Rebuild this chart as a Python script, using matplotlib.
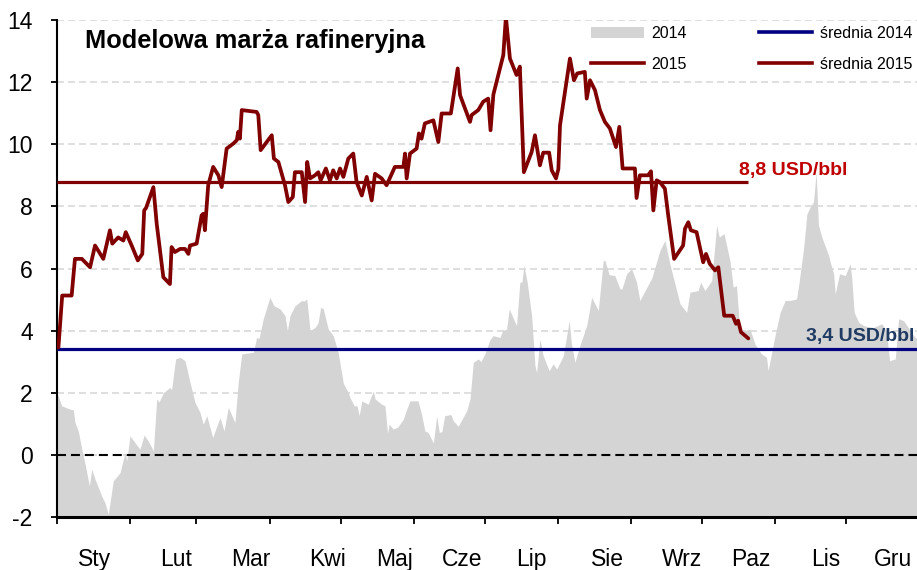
import matplotlib
matplotlib.use("Agg")
import matplotlib.pyplot as plt
from matplotlib.patches import Patch
from matplotlib.lines import Line2D

plt.rcParams['font.family'] = ['Liberation Sans', 'DejaVu Sans']

# --- data -------------------------------------------------------------
# 2014: model refining margin (USD/bbl) by day of year
days_2014 = [0.0, 2.0, 5.5, 6.9, 7.6, 9.0, 10.5, 11.9, 13.7, 14.7, 16.1, 18.9, 20.3, 21.7,
             23.8, 26.7, 28.8, 29.5, 30.9, 35.1, 36.9, 38.6, 40.8, 42.2, 43.2, 45.0, 47.8,
             48.5, 50.2, 52.1, 54.2, 56.3, 58.4, 60.5, 61.9, 63.4, 65.9, 69.0, 70.7, 72.5,
             75.3, 76.7, 78.2, 83.1, 84.5, 85.5, 87.3, 90.1, 91.8, 94.4, 96.5, 97.5, 98.6,
             100.7, 103.6, 104.5, 105.7, 107.1, 109.2, 110.5, 111.6, 112.7, 114.8, 116.9,
             119.0, 121.2, 123.3, 124.0, 125.8, 127.0, 127.9, 129.0, 131.7, 133.9, 134.6,
             137.4, 138.8, 139.9, 140.6, 142.3, 144.3, 146.6, 148.0, 149.4, 152.8, 154.3,
             155.7, 157.1, 159.3, 160.7, 161.8, 162.9, 164.1, 166.7, 167.7, 169.8, 173.4,
             174.8, 176.2, 178.3, 179.4, 181.1, 183.2, 184.6, 187.5, 188.6, 190.3, 191.4,
             194.5, 195.9, 196.8, 197.6, 199.0, 200.9, 202.3, 203.0, 204.4, 205.8, 208.3,
             210.0, 211.5, 214.3, 216.8, 217.7, 219.2, 221.3, 224.2, 226.3, 229.1, 231.2,
             231.9, 233.7, 236.1, 238.3, 239.1, 241.1, 243.2, 245.3, 246.7, 251.8, 255.2,
             257.3, 259.4, 263.7, 266.5, 267.9, 271.4, 272.4, 274.2, 277.1, 279.2, 280.3,
             282.3, 284.8, 286.2, 287.6, 289.0, 291.2, 293.3, 295.4, 298.2, 300.3, 301.0,
             303.9, 306.1, 308.2, 310.2, 313.0, 313.9, 316.0, 317.4, 318.8, 320.2, 321.3,
             322.3, 323.7, 326.6, 327.3, 328.7, 329.4, 331.2, 333.6, 335.7, 336.4, 337.4,
             339.3, 341.4, 345.6, 349.1, 351.0, 352.4, 354.8, 356.2, 358.3, 360.3, 362.6,
             364.0]
margin_2014 = [2.0, 1.58, 1.47, 1.45, 1.04, 0.77, 0.18, -0.3, -1.0, -0.46, -0.78, -1.32,
               -1.54, -1.91, -0.84, -0.57, 0.07, -0.19, 0.61, 0.18, 0.64, 0.45, 0.13, 1.8,
               1.7, 2.0, 2.17, 2.1, 3.09, 3.14, 3.03, 2.33, 1.69, 1.37, 0.99, 1.26, 0.56,
               1.2, 0.77, 1.53, 1.04, 2.33, 3.25, 3.3, 3.78, 3.75, 4.38, 5.07, 4.8, 4.7,
               4.48, 4.0, 4.48, 4.8, 4.97, 4.95, 5.02, 4.0, 4.1, 4.25, 4.75, 4.7, 4.05,
               3.84, 3.3, 2.3, 2.0, 1.85, 1.58, 1.58, 1.26, 1.74, 1.63, 2.06, 1.8, 1.63,
               1.58, 0.7, 0.99, 0.83, 0.9, 1.15, 1.47, 1.74, 1.74, 1.31, 0.77, 0.72, 0.38,
               1.25, 0.72, 0.75, 1.26, 1.3, 1.1, 0.92, 1.42, 1.8, 2.98, 3.09, 3.0, 3.25,
               3.7, 3.84, 3.78, 4.0, 4.05, 4.7, 4.16, 5.56, 5.56, 6.1, 5.56, 4.48, 2.87,
               2.65, 3.73, 3.19, 2.71, 2.93, 2.76, 3.19, 4.32, 3.6, 2.98, 3.52, 4.16, 5.07,
               4.65, 6.26, 6.26, 5.8, 5.77, 5.34, 5.34, 5.83, 5.99, 5.56, 4.97, 5.7, 6.58,
               6.9, 6.15, 4.86, 4.59, 5.24, 5.29, 5.56, 5.29, 5.61, 7.39, 7.01, 7.12, 6.26,
               5.4, 5.45, 4.0, 4.0, 4.05, 3.57, 3.25, 3.14, 2.71, 3.84, 4.59, 4.97, 4.97,
               5.02, 5.45, 6.64, 7.76, 7.98, 8.14, 9.1, 7.39, 7.01, 6.42, 6.2, 5.83, 5.18,
               5.83, 5.77, 6.15, 5.67, 4.59, 4.27, 4.16, 4.1, 4.22, 4.0, 3.03, 3.09, 4.38,
               4.32, 4.1, 3.84, 3.73]

# 2015: model refining margin (USD/bbl) by day of year
days_2015 = [0.6, 2.2, 6.2, 7.6, 10.5, 14.0, 16.1, 19.6, 22.4, 23.4, 25.9, 28.1, 29.1,
             31.6, 34.2, 36.1, 36.9, 37.7, 40.8, 42.2, 45.0, 47.8, 48.5, 49.9, 52.1, 54.2,
             55.6, 56.3, 59.1, 61.2, 61.9, 62.6, 64.0, 66.1, 68.3, 69.7, 71.8, 74.6, 76.1,
             76.7, 77.4, 78.2, 84.5, 85.2, 86.2, 90.9, 91.8, 93.7, 96.5, 97.9, 99.8, 100.7,
             103.6, 105.0, 105.9, 107.1, 109.2, 110.6, 111.6, 113.8, 115.5, 116.9, 118.4,
             119.8, 121.2, 123.3, 125.4, 126.8, 129.0, 131.1, 133.2, 134.6, 137.4, 139.5,
             143.0, 146.6, 147.3, 148.0, 149.4, 152.2, 153.2, 154.3, 155.7, 159.3, 161.4,
             162.8, 166.7, 169.6, 170.6, 174.8, 175.5, 178.3, 180.4, 182.5, 183.5, 184.7,
             188.9, 190.0, 191.7, 194.5, 195.9, 197.6, 200.9, 202.3, 204.4, 205.8, 208.3,
             209.4, 211.2, 212.2, 212.9, 215.0, 217.1, 218.8, 220.2, 223.4, 224.2, 225.6,
             227.7, 229.8, 231.9, 234.0, 236.6, 238.0, 239.4, 244.6, 245.3, 246.7, 250.2,
             251.4, 252.4, 253.8, 255.2, 257.3, 258.7, 261.2, 265.0, 265.8, 267.2, 268.3,
             270.7, 273.5, 274.7, 276.3, 278.5, 279.9, 282.4, 286.0, 287.4, 288.3, 289.5,
             292.6]
margin_2015 = [3.46, 5.13, 5.13, 6.31, 6.31, 6.04, 6.74, 6.31, 7.23, 6.8, 7.0, 6.9, 7.17,
               6.74, 6.26, 6.47, 7.87, 7.95, 8.62, 7.44, 5.72, 5.5, 6.69, 6.53, 6.63, 6.63,
               6.47, 6.74, 6.8, 7.71, 7.76, 7.23, 8.68, 9.27, 9.0, 8.62, 9.86, 10.02, 10.13,
               10.4, 10.18, 11.1, 11.04, 10.94, 9.81, 10.29, 9.54, 9.43, 8.68, 8.14, 8.3,
               9.1, 9.1, 8.14, 9.43, 8.9, 9.0, 9.1, 8.84, 9.22, 8.84, 9.16, 8.9, 9.22, 8.95,
               9.54, 9.7, 8.78, 8.35, 8.95, 8.19, 9.05, 8.9, 8.68, 9.27, 9.27, 9.7, 8.9,
               9.7, 9.86, 10.35, 10.18, 10.67, 10.77, 10.07, 10.99, 10.99, 12.44, 11.58,
               10.72, 10.94, 11.1, 11.37, 11.47, 10.45, 11.6, 12.87, 14.1, 12.76, 12.23,
               12.5, 9.1, 9.75, 10.29, 9.32, 9.73, 9.73, 9.16, 8.9, 9.2, 10.61, 11.69,
               12.76, 12.06, 12.28, 12.33, 11.47, 12.06, 11.74, 11.1, 10.72, 10.51, 9.91,
               10.56, 9.22, 9.22, 8.27, 9.0, 9.0, 9.13, 7.87, 8.84, 8.78, 8.57, 7.71, 6.31,
               6.74, 7.28, 7.49, 7.23, 7.17, 6.2, 6.47, 6.15, 5.94, 6.04, 4.48, 4.48, 4.22,
               4.32, 3.95, 3.75]

avg_2014 = 3.4
avg_2015 = 8.8

month_starts = [0, 31, 59, 90, 120, 151, 181, 212, 243, 273, 304, 334]
month_labels = ["Sty", "Lut", "Mar", "Kwi", "Maj", "Cze", "Lip", "Sie", "Wrz", "Paz",
                "Lis", "Gru"]
label_days = [15.7, 50.4, 82.1, 114.3, 143.0, 171.4, 200.6, 232.8, 264.5, 293.7, 325.4,
              353.8]

# --- colours ----------------------------------------------------------
c_area = "#D4D4D4"
c_2015 = "#800000"
c_avg14 = "#000080"
c_lab15 = "#C00000"
c_lab14 = "#1F3B63"

fig = plt.figure(figsize=(9.17, 5.70), dpi=100)
ax = fig.add_axes([57 / 917, 1 - 517 / 570, 860 / 917, 497 / 570])

ax.set_xlim(0, 364)
ax.set_ylim(-2, 14)

# gridlines behind everything
ax.set_axisbelow(True)
ax.yaxis.grid(True, color="#D9D9D9", linewidth=1.2, linestyle=(0, (4.2, 2.4)))

ax.fill_between(days_2014, margin_2014, -2, color=c_area, linewidth=0, zorder=1)
ax.axhline(0, color="black", linewidth=1.5, linestyle=(0, (4.3, 2.4)), zorder=2)
ax.plot([0, 364], [avg_2014, avg_2014], color=c_avg14, linewidth=2.3, zorder=3,
        solid_capstyle="butt")
ax.plot([0, days_2015[-1]], [avg_2015, avg_2015], color=c_2015, linewidth=2.3, zorder=3,
        solid_capstyle="butt")
ax.plot(days_2015, margin_2015, color=c_2015, linewidth=2.7, zorder=4,
        solid_joinstyle="round", solid_capstyle="round")

ax.text(288.6, avg_2015 + 0.2, f"{avg_2015:.1f} USD/bbl".replace(".", ","),
        color=c_lab15, fontsize=14, fontweight="bold", ha="left", va="baseline", zorder=5)
ax.text(317.0, avg_2014 + 0.25, f"{avg_2014:.1f} USD/bbl".replace(".", ","),
        color=c_lab14, fontsize=14, fontweight="bold", ha="left", va="baseline", zorder=5)

# axes styling
for side in ("top", "right"):
    ax.spines[side].set_visible(False)
ax.spines["left"].set_linewidth(1.5)
ax.spines["bottom"].set_linewidth(2.2)

ax.set_yticks(range(-2, 15, 2))
ax.set_yticklabels([str(v) for v in range(-2, 15, 2)])
ax.tick_params(axis="y", which="major", direction="out", length=4.5, width=1.3,
               labelsize=16.5, pad=13)

ax.set_xticks(month_starts)
ax.set_xticklabels([])
ax.set_xticks(label_days, minor=True)
ax.set_xticklabels(month_labels, minor=True)
ax.tick_params(axis="x", which="major", direction="out", length=5, width=1.3)
ax.tick_params(axis="x", which="minor", length=0, labelsize=16.5, pad=22)

fig.text(85 / 917, 1 - 48 / 570, "Modelowa marża rafineryjna", fontsize=18.3,
         fontweight="bold", ha="left", va="baseline")

handles = [
    Patch(facecolor=c_area, edgecolor="none"),
    Line2D([], [], color=c_2015, linewidth=2.6),
    Line2D([], [], color=c_avg14, linewidth=2.6),
    Line2D([], [], color=c_2015, linewidth=2.6),
]
labels = ["2014", "2015", "średnia 2014", "średnia 2015"]
fig.legend(handles, labels, loc="upper left", bbox_to_anchor=(591 / 917, 1 - 26 / 570),
           ncol=2, frameon=False, fontsize=11.5, borderpad=0, borderaxespad=0,
           handlelength=3.3, handleheight=0.75, handletextpad=0.5, columnspacing=4.5,
           labelspacing=1.0)

fig.savefig("out.png", dpi=100)
